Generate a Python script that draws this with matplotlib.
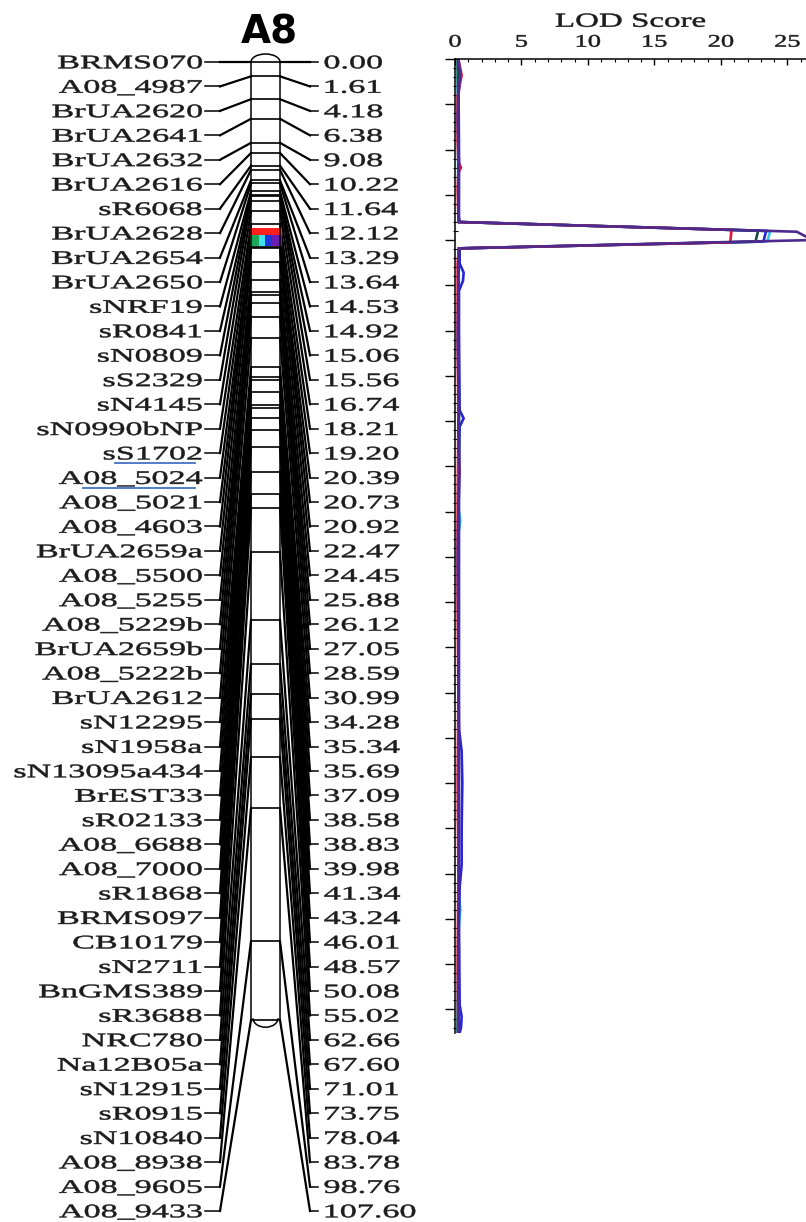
import numpy as np
import matplotlib
matplotlib.use("Agg")
import matplotlib.pyplot as plt
import matplotlib.patches as patches
import matplotlib.patheffects as pe
from matplotlib.transforms import Affine2D
from matplotlib.ticker import MultipleLocator

W, H = 806, 1222

# ---- linkage map data (chromosome A8) ----
marker_names = [
    "BRMS070", "A08_4987", "BrUA2620", "BrUA2641", "BrUA2632", "BrUA2616",
    "sR6068", "BrUA2628", "BrUA2654", "BrUA2650", "sNRF19", "sR0841",
    "sN0809", "sS2329", "sN4145", "sN0990bNP", "sS1702", "A08_5024",
    "A08_5021", "A08_4603", "BrUA2659a", "A08_5500", "A08_5255", "A08_5229b",
    "BrUA2659b", "A08_5222b", "BrUA2612", "sN12295", "sN1958a", "sN13095a434",
    "BrEST33", "sR02133", "A08_6688", "A08_7000", "sR1868", "BRMS097",
    "CB10179", "sN2711", "BnGMS389", "sR3688", "NRC780", "Na12B05a",
    "sN12915", "sR0915", "sN10840", "A08_8938", "A08_9605", "A08_9433",
]
marker_cm = [
    0.00, 1.61, 4.18, 6.38, 9.08, 10.22, 11.64, 12.12, 13.29, 13.64, 14.53, 14.92,
    15.06, 15.56, 16.74, 18.21, 19.20, 20.39, 20.73, 20.92, 22.47, 24.45, 25.88, 26.12,
    27.05, 28.59, 30.99, 34.28, 35.34, 35.69, 37.09, 38.58, 38.83, 39.98, 41.34, 43.24,
    46.01, 48.57, 50.08, 55.02, 62.66, 67.60, 71.01, 73.75, 78.04, 83.78, 98.76, 107.60,
]
flanking = ["sS1702", "A08_5024"]

# QTL confidence boxes drawn on the chromosome (cM)
qtl_colors = ["#ff1f1f", "#1fa85a", "#3fe0f0", "#2036d8", "#6a1fb0"]
qtl_start = [18.65, 19.43, 19.43, 19.43, 19.43]
qtl_end = [19.43, 20.67, 20.67, 20.67, 20.67]

# ---- LOD profiles (cM, LOD) ----
cyan_cm = [0.0, 17.4, 18.01, 19.01, 20.15, 20.92, 30.0, 49.5, 51.0, 52.5, 70.0, 91.5, 94.0, 96.6, 107.6]
cyan_lod = [0.2, 0.25, 0.3, 23.7, 23.5, 0.3, 0.25, 0.25, 0.4, 0.25, 0.25, 0.25, 0.4, 0.25, 0.2]

blue_cm = [0.0, 10.0, 17.4, 18.01, 18.99, 20.17, 20.92, 22.6, 23.6, 24.5, 25.6, 30.0, 38.8, 39.7,
           40.6, 45.0, 60.0, 74.0, 76.5, 80.0, 85.0, 89.0, 91.5, 95.0, 104.5, 105.8, 107.0, 107.6]
blue_lod = [0.25, 0.3, 0.3, 0.35, 23.4, 23.2, 0.35, 0.35, 0.65, 0.6, 0.3, 0.3, 0.35, 0.65,
            0.35, 0.3, 0.3, 0.3, 0.5, 0.55, 0.5, 0.5, 0.35, 0.3, 0.35, 0.5, 0.45, 0.35]

green_cm = [0.0, 8.0, 17.4, 18.01, 18.96, 20.18, 20.92, 25.0, 40.0, 60.0, 80.0, 100.0, 107.6]
green_lod = [0.2, 0.25, 0.25, 0.3, 22.8, 22.6, 0.3, 0.25, 0.3, 0.25, 0.25, 0.25, 0.2]

red_cm = [0.0, 0.7, 1.8, 2.9, 4.2, 9.1, 11.4, 12.0, 12.5, 14.5, 17.4, 18.01, 18.88, 20.25,
          20.92, 22.5, 30.0, 40.0, 50.0, 60.0, 70.0, 80.0, 90.0, 100.0, 107.6]
red_lod = [0.25, 0.35, 0.5, 0.35, 0.2, 0.2, 0.25, 0.45, 0.25, 0.2, 0.25, 0.3, 20.8, 20.7,
           0.3, 0.2, 0.2, 0.25, 0.2, 0.2, 0.25, 0.2, 0.25, 0.2, 0.25]

purple_cm = [0.0, 1.6, 4.2, 6.4, 9.1, 11.6, 14.5, 17.4, 18.01, 19.08, 20.0, 20.92, 22.5, 26.1, 31.0,
             35.3, 39.0, 41.3, 45.5, 50.1, 55.0, 62.7, 67.6, 73.8, 78.0, 83.8, 91.0, 98.8, 104.0, 107.6]
purple_lod = [0.25, 0.4, 0.25, 0.2, 0.25, 0.3, 0.25, 0.25, 0.3, 25.7, 26.9, 0.3, 0.25, 0.25, 0.2,
              0.25, 0.3, 0.25, 0.35, 0.25, 0.2, 0.25, 0.25, 0.3, 0.3, 0.3, 0.3, 0.25, 0.25, 0.3]

lod_series = [
    (cyan_cm, cyan_lod, "#35c4ea"),
    (blue_cm, blue_lod, "#2525dc"),
    (green_cm, green_lod, "#1f4a45"),
    (red_cm, red_lod, "#e0143a"),
    (purple_cm, purple_lod, "#4e2a8e"),
]


class Stretch(pe.AbstractPathEffect):
    """Widen glyphs horizontally around an anchor (the source figure is stretched)."""

    def __init__(self, sx, anchor="left", stroke=0.35):
        super().__init__()
        self.sx = sx
        self.anchor = anchor
        self.stroke = stroke

    def draw_path(self, renderer, gc, tpath, affine, rgbFace=None):
        ext = tpath.get_extents()
        x0 = {"left": ext.x0, "right": ext.x1, "center": 0.5 * (ext.x0 + ext.x1)}[self.anchor]
        t = Affine2D().translate(-x0, 0).scale(self.sx, 1).translate(x0, 0) + affine
        gc0 = renderer.new_gc()
        gc0.copy_properties(gc)
        gc0.set_linewidth(self.stroke)
        if rgbFace is not None:
            gc0.set_foreground(rgbFace)
        renderer.draw_path(gc0, tpath, t, rgbFace)
        gc0.restore()


SERIF = "Liberation Serif"
SX = 1.78
INK = "#1c1c1c"

fig = plt.figure(figsize=(W / 100, H / 100), dpi=100)

# ---- map axes: x in pixels, y in cM ----
top_px, bot_px = 62, 1020
chrom_len = marker_cm[-1]
px_per_cm = (bot_px - top_px) / chrom_len


def px2cm(py):
    return (py - top_px) / px_per_cm


ax = fig.add_axes([0, 0, 1, 1])
ax.set_xlim(0, W)
ax.set_ylim(px2cm(H), px2cm(0))
ax.axis("off")

bar_l, bar_r = 251, 280
n = len(marker_names)
label_y = np.linspace(px2cm(62), px2cm(1211), n)
base_off = 6.3 / px_per_cm

# chromosome body
ax.add_patch(patches.Rectangle((bar_l, 0), bar_r - bar_l, chrom_len,
                               facecolor="white", edgecolor="none", zorder=1))

for name, cm, ly in zip(marker_names, marker_cm, label_y):
    # label ticks and the marker line across the chromosome
    ax.plot([205, 220], [ly, ly], color="black", lw=1.1, zorder=2)
    ax.plot([310, 318], [ly, ly], color="black", lw=1.1, zorder=2)
    ax.plot([bar_l, bar_r], [cm, cm], color="black", lw=1.2, zorder=2)
    # slanted connectors (they pile up into the dark bands)
    ax.plot([220, bar_l], [ly, cm], color="black", lw=1.6, zorder=2)
    ax.plot([bar_r, 310], [cm, ly], color="black", lw=1.6, zorder=2)
    ax.text(202, ly + base_off, name, ha="right", va="baseline", family=SERIF,
            fontsize=13.8, color=INK, path_effects=[Stretch(SX, "right")])
    ax.text(324, ly + base_off, f"{cm:.2f}", ha="left", va="baseline", family=SERIF,
            fontsize=13.8, color=INK, path_effects=[Stretch(SX, "left")])

# QTL boxes
cols = [(bar_l - 1, bar_r + 2), (bar_l - 1, 259), (259, 265), (265, 272), (272, bar_r + 2)]
for c, s, e, (x0, x1) in zip(qtl_colors, qtl_start, qtl_end, cols):
    ax.add_patch(patches.Rectangle((x0, s), x1 - x0, e - s, facecolor=c,
                                   edgecolor="none", zorder=3))

# outline with rounded ends
ax.plot([bar_l, bar_l], [0, chrom_len], color="black", lw=1.1, zorder=4)
ax.plot([bar_r, bar_r], [0, chrom_len], color="black", lw=1.1, zorder=4)
cx = 0.5 * (bar_l + bar_r)
ax.add_patch(patches.Arc((cx, 0), bar_r - bar_l, 2 * 8 / px_per_cm, theta1=180, theta2=360,
                         color="black", lw=1.1, zorder=4))
ax.add_patch(patches.Arc((cx, chrom_len - 0.2), bar_r - bar_l - 4, 2 * 9 / px_per_cm,
                         theta1=0, theta2=180, color="black", lw=1.1, zorder=4))

# flanking marker underlines
for name, x0 in zip(flanking, [115, 83]):
    i = marker_names.index(name)
    ax.plot([x0, 195], [label_y[i] + 10 / px_per_cm] * 2, color="#4472c4", lw=1.3, zorder=5)

ax.text(269, px2cm(43), "A8", ha="center", va="baseline", fontsize=28,
        fontweight="bold", family="DejaVu Sans", color="black")

# ---- LOD axes ----
lod_top, lod_bot, lod_left = 59, 1033, 455
axl = fig.add_axes([lod_left / W, (H - lod_bot) / H, (W - lod_left) / W, (lod_bot - lod_top) / H])
axl.set_xlim(0, 26.4)
axl.set_ylim(chrom_len, 0)
axl.patch.set_alpha(0)
for side in ["right", "bottom"]:
    axl.spines[side].set_visible(False)
for side in ["top", "left"]:
    axl.spines[side].set_linewidth(1.1)

for cms, lods, col in lod_series:
    axl.plot(lods, cms, color=col, lw=1.9, solid_joinstyle="miter", clip_on=True)

axl.xaxis.tick_top()
axl.xaxis.set_label_position("top")
axl.xaxis.set_major_locator(MultipleLocator(5))
axl.xaxis.set_minor_locator(MultipleLocator(1))
axl.yaxis.set_major_locator(MultipleLocator(5))
axl.yaxis.set_minor_locator(MultipleLocator(1))
axl.tick_params(axis="x", which="major", direction="in", length=4.5, width=1, pad=6)
axl.tick_params(axis="x", which="minor", direction="in", length=2.3, width=0.8)
axl.tick_params(axis="y", which="major", direction="out", length=7, width=1, labelleft=False)
axl.tick_params(axis="y", which="minor", direction="inout", length=3.6, width=0.8)
for t in axl.get_xticklabels():
    t.set_fontfamily(SERIF)
    t.set_fontsize(12.7)
    t.set_color(INK)
    t.set_path_effects([Stretch(1.5, "center")])
axl.set_xlabel("LOD Score", family=SERIF, fontsize=14.4, color=INK, labelpad=5,
               path_effects=[Stretch(1.65, "center")])

fig.savefig("out.png", dpi=100)
